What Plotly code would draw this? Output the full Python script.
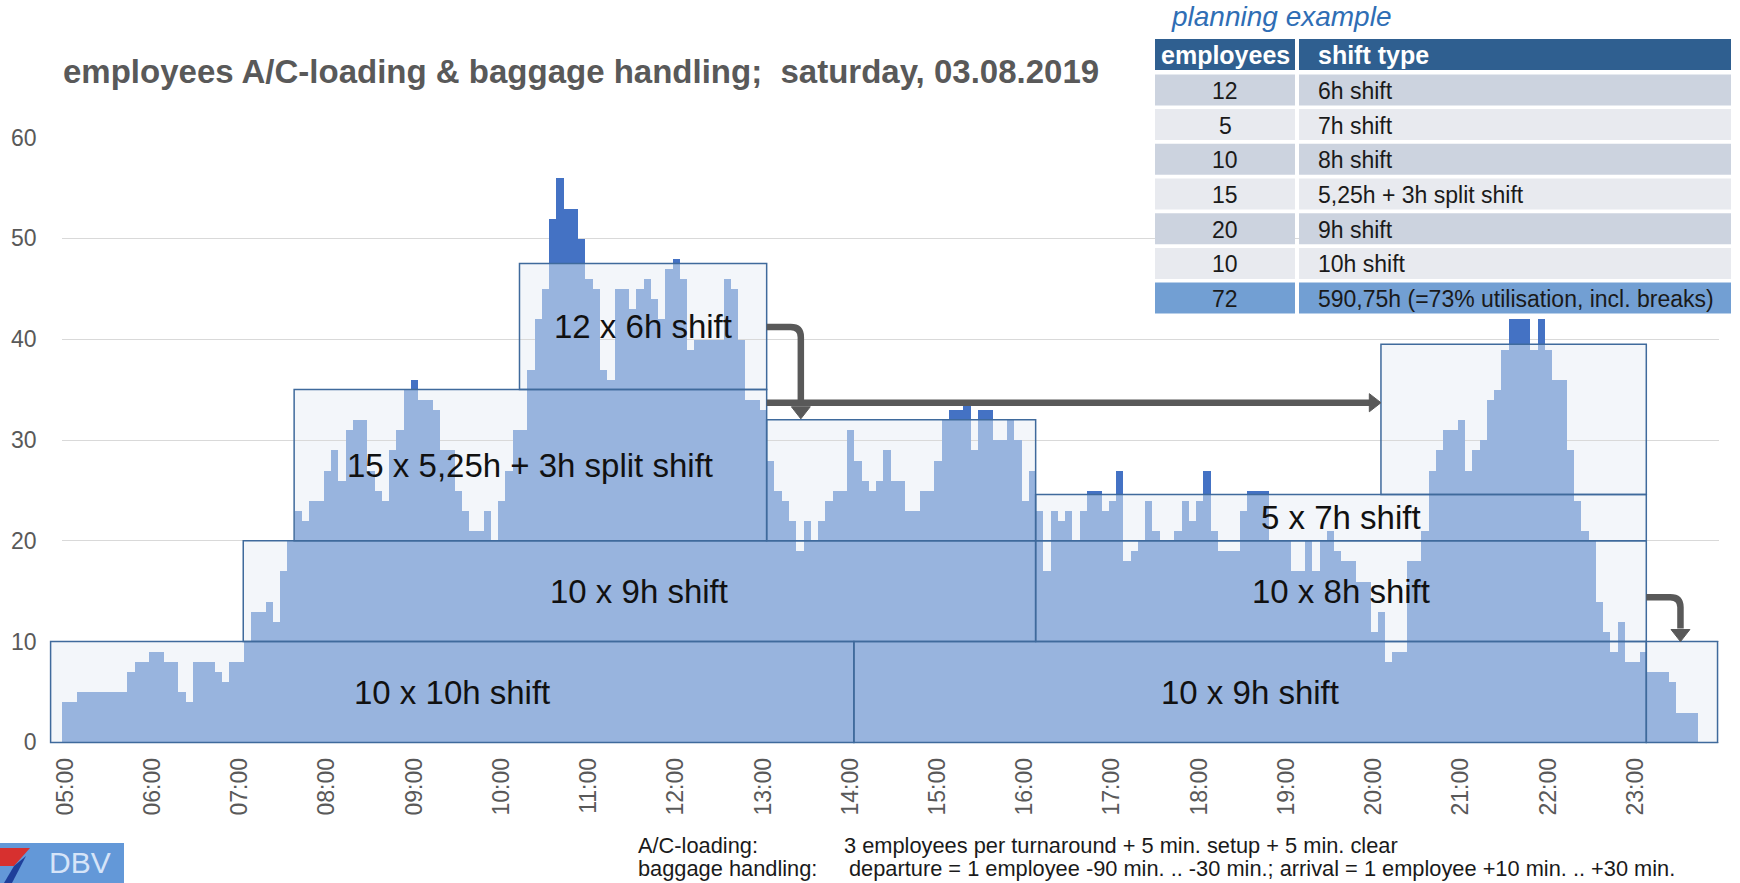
import plotly.graph_objects as go

PAGE_W, PAGE_H = 1740, 883
OFF = 0                      # body margin is removed by the post script
FW, FH = PAGE_W - 2 * OFF, PAGE_H - 2 * OFF

# ---------------- data ----------------
# 5-minute slots 05:00 .. 23:55
slot_times = [f"{5 + (i * 5) // 60:02d}:{(i * 5) % 60:02d}" for i in range(228)]
hour_ticks = [f"{h:02d}:00" for h in range(5, 24)]

employees_needed = [
    4, 4, 5, 5, 5, 5, 5, 5, 5, 7, 8, 8,
    9, 9, 8, 8, 5, 4, 8, 8, 8, 7, 6, 8,
    8, 10, 13, 13, 14, 12, 17, 20, 23, 22, 24, 24,
    27, 29, 26, 31, 32, 32, 27, 25, 24, 29, 31, 35,
    36, 34, 34, 33, 29, 29, 25, 23, 21, 21, 23, 20,
    24, 27, 31, 31, 37, 42, 45, 52, 56, 53, 53, 50,
    46, 45, 37, 36, 45, 45, 43, 45, 46, 44, 42, 47,
    48, 46, 39, 40, 40, 40, 40, 46, 45, 40, 34, 34,
    33, 28, 25, 24, 22, 19, 22, 20, 22, 24, 25, 25,
    31, 28, 26, 25, 26, 29, 26, 26, 23, 23, 25, 25,
    28, 32, 33, 33, 34, 29, 33, 33, 30, 30, 32, 30,
    24, 27, 23, 17, 23, 22, 23, 20, 23, 25, 25, 23,
    24, 27, 18, 19, 20, 24, 21, 20, 20, 21, 24, 22,
    24, 27, 21, 19, 19, 19, 23, 25, 25, 25, 20, 20,
    20, 17, 17, 20, 17, 20, 21, 19, 18, 18, 16, 16,
    11, 13, 8, 9, 9, 18, 18, 21, 27, 29, 31, 31,
    32, 27, 29, 30, 34, 35, 39, 42, 42, 42, 39, 42,
    39, 36, 36, 29, 24, 21, 20, 14, 11, 9, 12, 8,
    8, 9, 7, 7, 7, 6, 3, 3, 3,
]

# shift blocks (slot-index span, employee band)
block_label = ["10 x 10h shift", "10 x 9h shift", "15 x 5,25h + 3h split shift", "12 x 6h shift", "",
               "10 x 9h shift", "10 x 8h shift", "5 x 7h shift", "", ""]
block_from = [-2, 24.5, 31.5, 62.5, 96.5, 108.5, 133.5, 133.5, 181, 217.5]
block_to = [108.5, 133.5, 96.5, 96.5, 133.5, 217.5, 217.5, 217.5, 217.5, 227.3]
block_low = [0, 10, 20, 35, 20, 0, 10, 20, 24.6, 0]
block_high = [10, 20, 35, 47.5, 32, 10, 20, 24.6, 39.5, 10]

# planning table
table_header = ["employees", "shift type"]
table_employees = [12, 5, 10, 15, 20, 10, 72]
table_shift_type = ["6h shift", "7h shift", "8h shift", "5,25h + 3h split shift", "9h shift", "10h shift",
                    "590,75h (=73% utilisation, incl. breaks)"]

# ---------------- derived ----------------
n = len(employees_needed)
capacity = []
for k in range(n):
    c = 0
    for a, b, hi in zip(block_from, block_to, block_high):
        if a <= k < b:
            c = max(c, hi)
    capacity.append(c)
covered = [min(v, c) for v, c in zip(employees_needed, capacity)]
excess = [max(v - c, 0) for v, c in zip(employees_needed, capacity)]


# page pixel -> figure fraction
def fx(p):
    return (p - OFF) / FW


def fy(p):
    return 1 - (p - OFF) / FH


X0, X1 = fx(61.5), fx(1719)
Y0, Y1 = fy(742.4), fy(137.6)
XR = (-0.5, 227.5)
YR = (0, 60)


# data -> figure fraction
def px(k):
    return X0 + (k - XR[0]) / (XR[1] - XR[0]) * (X1 - X0)


def py(v):
    return Y0 + (v - YR[0]) / (YR[1] - YR[0]) * (Y1 - Y0)


FONT = "Liberation Sans, Arial, sans-serif"
LIGHT = "#98B4DE"
DARK = "#4472C4"
BOXLINE = "#3F6A9C"
ARROW = "#595959"

fig = go.Figure()
fig.add_trace(go.Bar(x=slot_times[:n], y=covered, marker=dict(color=LIGHT, line=dict(width=0)),
                     hoverinfo="x+y", name="covered"))
fig.add_trace(go.Bar(x=slot_times[:n], y=excess, marker=dict(color=DARK, line=dict(width=0)),
                     hoverinfo="x+y", name="excess"))

shapes = []
annotations = []
for lab, a, b, lo, hi in zip(block_label, block_from, block_to, block_low, block_high):
    shapes.append(dict(type="rect", xref="paper", yref="paper", x0=px(a), x1=px(b), y0=py(lo), y1=py(hi),
                       fillcolor="#F3F6FA", line=dict(width=0), layer="below"))
    shapes.append(dict(type="rect", xref="paper", yref="paper", x0=px(a), x1=px(b), y0=py(lo), y1=py(hi),
                       fillcolor="rgba(0,0,0,0)", line=dict(color=BOXLINE, width=1.5), layer="above"))
    if lab:
        annotations.append(dict(xref="paper", yref="paper", x=px((a + b) / 2), y=py((lo + hi) / 2),
                                text=lab, showarrow=False, xanchor="center", yanchor="middle",
                                font=dict(family=FONT, size=33, color="#111111")))


def corner_arrow(xs, ys, xv, ytip, r=1.4, ry=1.0, head_len=1.2, head_hw=1.3):
    path = (f"M {px(xs)},{py(ys)} L {px(xv - r)},{py(ys)} Q {px(xv)},{py(ys)} {px(xv)},{py(ys - ry)} "
            f"L {px(xv)},{py(ytip + head_len + 0.1)}")
    shapes.append(dict(type="path", xref="paper", yref="paper", path=path,
                       line=dict(color=ARROW, width=6.5), layer="above"))
    head = (f"M {px(xv - head_hw)},{py(ytip + head_len)} L {px(xv + head_hw)},{py(ytip + head_len)} "
            f"L {px(xv)},{py(ytip)} Z")
    shapes.append(dict(type="path", xref="paper", yref="paper", path=head, fillcolor=ARROW,
                       line=dict(color=ARROW, width=1), layer="above"))


corner_arrow(96.5, 41.2, 101.2, 32.1)
corner_arrow(217.5, 14.4, 222.2, 10.0)
shapes.append(dict(type="path", xref="paper", yref="paper",
                   path=f"M {px(96.5)},{py(33.7)} L {px(179.6)},{py(33.7)}",
                   line=dict(color=ARROW, width=6.5), layer="above"))
shapes.append(dict(type="path", xref="paper", yref="paper",
                   path=f"M {px(179.4)},{py(34.6)} L {px(179.4)},{py(32.8)} L {px(181)},{py(33.7)} Z",
                   fillcolor=ARROW, line=dict(color=ARROW, width=1), layer="above"))

# ---------------- planning table ----------------
T_LEFT, T_DIV, T_RIGHT = 1155, 1297, 1731
HDR_TOP, HDR_BOT = 39, 70
ROW_TOP, ROW_PITCH, ROW_H = 74.4, 34.7, 31
GAP = 2
row_fill = ["#CCD3DF", "#E8EAEF", "#CCD3DF", "#E8EAEF", "#CCD3DF", "#E8EAEF", "#729FD3"]
col_x = [(T_LEFT, T_DIV - GAP), (T_DIV + GAP, T_RIGHT)]
for (c0, c1), lab, al in zip(col_x, table_header, ["center", "left"]):
    shapes.append(dict(type="rect", xref="paper", yref="paper", x0=fx(c0), x1=fx(c1), y0=fy(HDR_BOT),
                       y1=fy(HDR_TOP), fillcolor="#2F5F90", line=dict(width=0), layer="above"))
    annotations.append(dict(xref="paper", yref="paper",
                            x=fx((c0 + c1) / 2) if al == "center" else fx(c0 + 17),
                            y=fy((HDR_TOP + HDR_BOT) / 2 + 1), text=f"<b>{lab}</b>", showarrow=False,
                            xanchor=al, yanchor="middle", font=dict(family=FONT, size=25, color="white")))
for i, (emp, st) in enumerate(zip(table_employees, table_shift_type)):
    top = ROW_TOP + i * ROW_PITCH
    for (c0, c1), txt, al in zip(col_x, [str(emp), st], ["center", "left"]):
        shapes.append(dict(type="rect", xref="paper", yref="paper", x0=fx(c0), x1=fx(c1),
                           y0=fy(top + ROW_H), y1=fy(top), fillcolor=row_fill[i], line=dict(width=0),
                           layer="above"))
        annotations.append(dict(xref="paper", yref="paper",
                                x=fx((c0 + c1) / 2) if al == "center" else fx(c0 + 17),
                                y=fy(top + ROW_H / 2 + 1), text=txt, showarrow=False, xanchor=al,
                                yanchor="middle", font=dict(family=FONT, size=23, color="#1A1A1A")))

# planning example caption
annotations.append(dict(xref="paper", yref="paper", x=fx(1170), y=fy(0), text="<i>planning example</i>",
                        showarrow=False, xanchor="left", yanchor="top", borderpad=0,
                        font=dict(family=FONT, size=28, color="#2F6EB5")))

# footer
foot_rows = [("A/C-loading:", "3 employees per turnaround + 5 min. setup + 5 min. clear", 845, 842),
             ("baggage handling:",
              "departure = 1 employee -90 min. .. -30 min.; arrival = 1 employee +10 min. .. +30 min.", 868, 847)]
for lab, txt, yy, xt in foot_rows:
    annotations.append(dict(xref="paper", yref="paper", x=fx(636), y=fy(yy), text=lab, showarrow=False,
                            xanchor="left", yanchor="middle", font=dict(family=FONT, size=21.8, color="#1A1A1A")))
    annotations.append(dict(xref="paper", yref="paper", x=fx(xt), y=fy(yy), text=txt, showarrow=False,
                            xanchor="left", yanchor="middle", font=dict(family=FONT, size=21.8, color="#1A1A1A")))

# logo
shapes.append(dict(type="rect", xref="paper", yref="paper", x0=fx(0), x1=fx(124), y0=fy(883), y1=fy(843),
                   fillcolor="#6398D8", line=dict(width=0), layer="above"))
shapes.append(dict(type="path", xref="paper", yref="paper",
                   path=f"M {fx(0)},{fy(848)} L {fx(30)},{fy(848)} L {fx(14)},{fy(866)} L {fx(0)},{fy(866)} Z",
                   fillcolor="#D7302F", line=dict(width=0), layer="above"))
shapes.append(dict(type="path", xref="paper", yref="paper",
                   path=f"M {fx(14)},{fy(866)} L {fx(26)},{fy(856)} L {fx(12)},{fy(883)} L {fx(4)},{fy(883)} Z",
                   fillcolor="#1F3F9A", line=dict(width=0), layer="above"))
annotations.append(dict(xref="paper", yref="paper", x=fx(80), y=fy(862), text="DBV", showarrow=False,
                        xanchor="center", yanchor="middle", borderpad=0,
                        font=dict(family=FONT, size=30, color="#D6E4F8")))

fig.update_layout(
    width=FW, height=FH, margin=dict(l=0, r=0, t=0, b=0, pad=0, autoexpand=False), autosize=False,
    paper_bgcolor="white", plot_bgcolor="white", showlegend=False,
    barmode="stack", bargap=0,
    title=dict(text="<b>employees A/C-loading &amp; baggage handling;\u00a0 saturday, 03.08.2019</b>",
               x=fx(63), xanchor="left", y=fy(71), yanchor="middle", xref="paper", yref="paper",
               automargin=False, font=dict(family=FONT, size=33, color="#595959")),
    xaxis=dict(domain=[X0, X1], type="category", categoryorder="array", categoryarray=slot_times,
               range=list(XR), tickmode="array", tickvals=hour_ticks, ticktext=hour_ticks, tickangle=-90,
               showgrid=False, zeroline=False, showline=False, ticks="", ticklabelstandoff=10,
               automargin=False, tickfont=dict(family=FONT, size=23, color="#595959")),
    yaxis=dict(domain=[Y0, Y1], range=list(YR), dtick=10, showgrid=True, gridcolor="#D9D9D9", gridwidth=1,
               zeroline=True, zerolinecolor="#D9D9D9", zerolinewidth=1, showline=False, ticks="",
               automargin=False, ticklabelstandoff=24, tickfont=dict(family=FONT, size=23, color="#595959")),
    shapes=shapes, annotations=annotations,
)

fig.write_html("out.html", config={"displayModeBar": False},
               post_script="document.body.style.margin='0px';document.body.style.overflow='hidden';")
